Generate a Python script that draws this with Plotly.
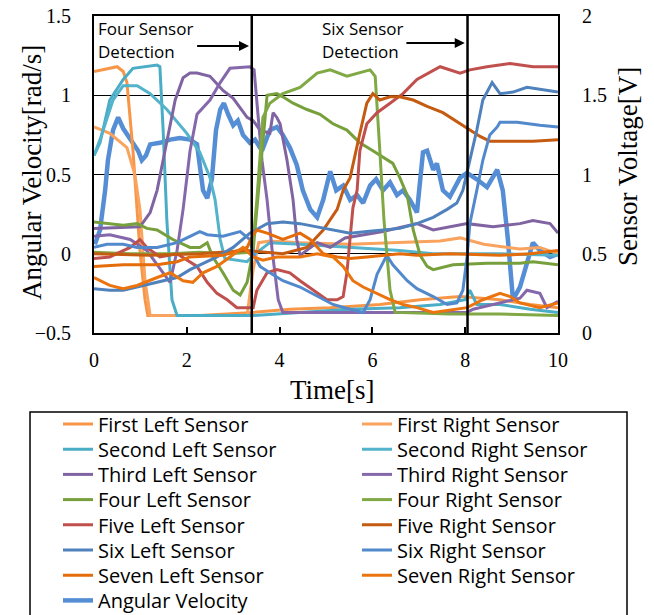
import plotly.graph_objects as go

# ---------------- data (time [s], value) ----------------
# Sensor voltages [V] (right axis)
first_left_t = [0, 0.50, 0.63, 0.71, 0.84, 0.99, 1.10, 1.16, 2.28, 3.43, 4.22, 5.09, 6.16, 7.03, 7.89, 8.75, 9.40, 10]
first_left_v = [1.65, 1.68, 1.65, 1.58, 1.15, 0.52, 0.21, 0.11, 0.11, 0.13, 0.15, 0.16, 0.18, 0.21, 0.23, 0.21, 0.18, 0.16]

first_right_t = [0, 0.34, 0.71, 0.88, 0.99, 1.10, 1.21, 3.30, 3.43, 3.55, 3.79, 4.44, 5.52, 6.59, 7.46, 7.89, 8.40, 9.18, 9.61, 10]
first_right_v = [1.30, 1.26, 1.17, 1.00, 0.78, 0.33, 0.11, 0.11, 0.40, 0.57, 0.58, 0.57, 0.56, 0.57, 0.58, 0.60, 0.56, 0.53, 0.54, 0.50]

second_left_t = [0, 0.13, 0.34, 0.63, 0.84, 1.36, 1.42, 1.49, 1.57, 1.68, 1.79, 3.43, 4.44, 5.52, 6.59, 7.46, 8.00, 8.10, 8.25, 8.75, 9.40, 10]
second_left_v = [1.12, 1.20, 1.47, 1.60, 1.67, 1.69, 1.68, 1.28, 0.71, 0.21, 0.11, 0.11, 0.13, 0.15, 0.16, 0.18, 0.21, 0.27, 0.18, 0.18, 0.15, 0.13]

second_right_t = [0, 0.13, 0.41, 0.63, 0.93, 1.21, 1.57, 2.00, 2.28, 2.50, 2.61, 2.72, 2.82, 3.30, 3.43, 3.79, 4.44, 5.52, 6.59, 7.31, 8.75, 10]
second_right_v = [1.12, 1.22, 1.47, 1.56, 1.56, 1.51, 1.41, 1.26, 1.14, 0.98, 0.84, 0.59, 0.47, 0.45, 0.49, 0.57, 0.56, 0.54, 0.52, 0.50, 0.50, 0.49]

third_left_t = [0, 0.99, 1.21, 1.36, 1.53, 1.75, 1.92, 2.07, 2.22, 2.50, 2.78, 3.00, 3.30, 3.43, 3.58, 3.79, 3.86, 3.94, 4.01, 4.16, 4.29, 4.37, 4.44, 4.81, 5.09, 5.41, 6.23, 6.96, 7.31, 8.04, 8.60, 9.18, 9.46, 9.83, 10]
third_left_v = [0.66, 0.67, 0.76, 0.90, 1.15, 1.47, 1.61, 1.64, 1.64, 1.62, 1.53, 1.48, 1.36, 1.34, 1.28, 1.26, 1.39, 1.36, 1.32, 1.09, 0.84, 0.59, 0.49, 0.57, 0.54, 0.60, 0.64, 0.69, 0.65, 0.69, 0.67, 0.69, 0.71, 0.69, 0.63]

third_right_t = [0, 0.34, 0.78, 1.14, 1.49, 1.64, 1.79, 1.92, 2.07, 2.22, 2.50, 2.72, 2.93, 3.36, 3.45, 3.53, 3.62, 3.73, 3.84, 3.97, 4.07, 5.09, 6.59, 8.04, 8.17, 8.75, 9.18, 9.33, 9.61, 9.76, 10]
third_right_v = [0.61, 0.62, 0.59, 0.52, 0.38, 0.32, 0.52, 0.78, 1.15, 1.38, 1.47, 1.58, 1.67, 1.68, 1.66, 1.41, 1.09, 0.84, 0.52, 0.21, 0.13, 0.13, 0.13, 0.13, 0.15, 0.19, 0.22, 0.27, 0.25, 0.16, 0.20]

four_left_t = [0, 0.63, 0.93, 1.14, 1.36, 1.70, 2.07, 2.28, 2.44, 2.56, 2.78, 3.00, 3.15, 3.30, 3.43, 3.53, 3.64, 3.73, 3.94, 4.07, 4.29, 4.59, 4.87, 5.15, 5.45, 5.73, 6.01, 6.23, 6.44, 6.59, 6.75, 6.88, 7.03, 7.18, 7.31, 7.74, 8.47, 9.18, 9.46, 10]
four_left_v = [0.70, 0.68, 0.69, 0.66, 0.65, 0.59, 0.54, 0.54, 0.57, 0.48, 0.38, 0.27, 0.24, 0.32, 0.52, 0.84, 1.22, 1.50, 1.51, 1.49, 1.45, 1.41, 1.38, 1.32, 1.28, 1.20, 1.15, 1.11, 1.07, 0.98, 0.87, 0.65, 0.49, 0.42, 0.40, 0.43, 0.44, 0.44, 0.45, 0.43]

four_right_t = [0, 0.78, 1.64, 2.28, 2.93, 3.41, 3.51, 3.64, 3.79, 4.07, 4.44, 4.81, 5.09, 5.45, 5.95, 6.06, 6.16, 6.25, 6.38, 6.49, 7.67, 8.75, 10]
four_right_v = [0.51, 0.50, 0.50, 0.51, 0.50, 0.51, 0.84, 1.36, 1.45, 1.51, 1.55, 1.64, 1.66, 1.62, 1.66, 1.62, 1.15, 0.71, 0.27, 0.13, 0.12, 0.12, 0.11]

five_left_t = [0, 0.34, 0.78, 0.99, 1.14, 1.42, 1.79, 2.22, 2.44, 2.65, 2.87, 3.08, 3.30, 3.43, 3.51, 3.73, 3.94, 4.22, 4.44, 4.72, 5.02, 5.24, 5.37, 5.45, 5.52, 5.58, 5.67, 5.73, 5.88, 6.10, 6.38, 6.66, 6.96, 7.46, 7.89, 8.10, 8.47, 8.97, 9.46, 10]
five_left_v = [0.47, 0.48, 0.54, 0.59, 0.54, 0.48, 0.50, 0.42, 0.32, 0.25, 0.21, 0.16, 0.16, 0.16, 0.27, 0.38, 0.40, 0.38, 0.33, 0.27, 0.21, 0.21, 0.23, 0.38, 0.59, 0.79, 0.90, 1.15, 1.32, 1.39, 1.45, 1.51, 1.60, 1.68, 1.64, 1.66, 1.68, 1.70, 1.68, 1.68]

five_right_t = [0, 1.21, 2.28, 3.30, 4.07, 4.59, 4.94, 5.24, 5.37, 5.52, 5.73, 5.88, 6.01, 6.16, 6.38, 6.59, 6.88, 7.18, 7.52, 7.89, 8.10, 8.32, 8.53, 8.97, 9.46, 10]
five_right_v = [0.50, 0.49, 0.50, 0.52, 0.50, 0.54, 0.65, 0.78, 0.90, 0.98, 1.26, 1.45, 1.51, 1.47, 1.49, 1.49, 1.47, 1.43, 1.39, 1.32, 1.28, 1.24, 1.21, 1.21, 1.21, 1.22]

six_left_t = [0, 0.34, 0.63, 0.93, 1.36, 1.79, 2.07, 2.35, 2.65, 3.00, 3.36, 3.73, 4.07, 4.44, 4.81, 5.15, 5.52, 5.88, 6.23, 6.59, 6.96, 7.31, 7.61, 7.82, 7.95, 8.10, 8.25, 8.38, 8.53, 8.58, 8.75, 9.03, 9.33, 9.76, 10]
six_left_v = [0.28, 0.27, 0.27, 0.29, 0.32, 0.35, 0.40, 0.44, 0.48, 0.54, 0.63, 0.69, 0.70, 0.69, 0.67, 0.65, 0.63, 0.64, 0.65, 0.66, 0.69, 0.73, 0.78, 0.82, 0.90, 1.09, 1.28, 1.47, 1.56, 1.58, 1.51, 1.52, 1.55, 1.53, 1.52]

six_right_t = [0, 0.28, 0.63, 0.93, 1.36, 1.79, 2.07, 2.28, 2.44, 2.78, 3.15, 3.36, 3.43, 3.58, 3.79, 4.07, 4.44, 4.81, 5.15, 5.52, 5.80, 5.95, 6.10, 6.31, 6.44, 6.75, 6.96, 7.31, 7.61, 7.82, 7.95, 8.04, 8.10, 8.25, 8.38, 8.53, 8.69, 8.75, 9.12, 9.61, 10]
six_right_v = [0.54, 0.56, 0.56, 0.54, 0.54, 0.57, 0.61, 0.64, 0.62, 0.61, 0.64, 0.59, 0.50, 0.42, 0.38, 0.33, 0.29, 0.23, 0.18, 0.15, 0.13, 0.21, 0.37, 0.49, 0.43, 0.33, 0.28, 0.23, 0.18, 0.19, 0.27, 0.48, 0.69, 0.90, 1.09, 1.25, 1.30, 1.33, 1.33, 1.31, 1.30]

seven_left_t = [0, 0.63, 1.36, 1.79, 2.07, 2.78, 3.30, 3.43, 3.51, 3.73, 4.07, 4.44, 4.66, 4.94, 5.24, 5.52, 5.88, 6.23, 6.59, 6.96, 7.67, 8.75, 9.40, 10]
seven_left_v = [0.42, 0.43, 0.43, 0.45, 0.48, 0.49, 0.54, 0.62, 0.65, 0.63, 0.59, 0.63, 0.59, 0.50, 0.48, 0.47, 0.48, 0.49, 0.50, 0.49, 0.50, 0.49, 0.50, 0.52]

seven_right_t = [0, 0.34, 0.63, 0.93, 1.36, 1.64, 1.92, 2.13, 2.35, 2.65, 2.93, 3.21, 3.43, 3.64, 3.94, 4.44, 4.81, 5.15, 5.37, 5.58, 5.80, 6.10, 6.38, 6.66, 6.96, 7.31, 8.04, 8.38, 8.75, 8.97, 9.18, 9.61, 10]
seven_right_v = [0.35, 0.30, 0.28, 0.30, 0.35, 0.38, 0.33, 0.32, 0.38, 0.42, 0.48, 0.54, 0.48, 0.46, 0.48, 0.48, 0.50, 0.48, 0.42, 0.33, 0.29, 0.25, 0.21, 0.18, 0.16, 0.13, 0.16, 0.21, 0.25, 0.23, 0.19, 0.16, 0.19]

# Angular velocity [rad/s] (left axis)
ang_t = [0.02, 0.13, 0.24, 0.30, 0.41, 0.52, 0.63, 0.78, 0.95, 1.03, 1.12, 1.21, 1.42, 1.64, 1.85, 2.07, 2.22, 2.35, 2.44, 2.54, 2.63, 2.72, 2.80, 2.89, 3.00, 3.10, 3.21, 3.36, 3.47, 3.62, 3.79, 3.94, 4.07, 4.22, 4.37, 4.50, 4.66, 4.81, 4.94, 5.09, 5.22, 5.37, 5.52, 5.67, 5.80, 5.95, 6.08, 6.23, 6.38, 6.53, 6.66, 6.81, 6.96, 7.09, 7.18, 7.31, 7.39, 7.52, 7.67, 7.89, 8.04, 8.25, 8.47, 8.69, 8.81, 8.92, 9.03, 9.18, 9.33, 9.46, 9.61, 9.83, 10]
ang_v = [0.06, 0.15, 0.40, 0.59, 0.78, 0.86, 0.79, 0.72, 0.65, 0.59, 0.62, 0.69, 0.70, 0.72, 0.73, 0.72, 0.69, 0.40, 0.35, 0.47, 0.78, 0.91, 0.95, 0.88, 0.81, 0.84, 0.75, 0.70, 0.72, 0.65, 0.78, 0.80, 0.75, 0.67, 0.56, 0.40, 0.28, 0.23, 0.34, 0.52, 0.40, 0.43, 0.34, 0.37, 0.32, 0.43, 0.47, 0.40, 0.45, 0.37, 0.40, 0.34, 0.26, 0.64, 0.65, 0.53, 0.57, 0.40, 0.36, 0.48, 0.51, 0.47, 0.42, 0.53, 0.40, 0.09, -0.29, -0.21, -0.05, 0.07, 0.02, -0.02, 0.0]

detect_times = [3.4, 8.05]
x_ticks = [0, 2, 4, 6, 8, 10]

sensor_names = ["First Left Sensor", "First Right Sensor", "Second Left Sensor", "Second Right Sensor",
                "Third Left Sensor", "Third Right Sensor", "Four Left Sensor", "Four Right Sensor",
                "Five Left Sensor", "Five Right Sensor", "Six Left Sensor", "Six Right Sensor",
                "Seven Left Sensor", "Seven Right Sensor"]
sensor_t = [first_left_t, first_right_t, second_left_t, second_right_t, third_left_t, third_right_t,
            four_left_t, four_right_t, five_left_t, five_right_t, six_left_t, six_right_t,
            seven_left_t, seven_right_t]
sensor_v = [first_left_v, first_right_v, second_left_v, second_right_v, third_left_v, third_right_v,
            four_left_v, four_right_v, five_left_v, five_right_v, six_left_v, six_right_v,
            seven_left_v, seven_right_v]
sensor_colors = ["#F79646", "#F9A35E", "#4BACC6", "#52B3CB", "#8064A2", "#8568AB",
                 "#77A03C", "#80A844", "#C0504D", "#C55A11", "#4F81BD", "#5289CC",
                 "#E46C0A", "#EB740F"]

sans = "Open Sans, Noto Sans, sans-serif"
serif = "Liberation Serif, Times New Roman, serif"

# one legend per entry so the two-column grid can be placed exactly
legend_keys = ["legend"] + ["legend%d" % j for j in range(2, 16)]
legend_layout = {}

def legend_pos(col, row):
    x = -0.0776 if col == 0 else 0.5668
    top_px = 425 + 25.2 * row - 20.5
    y = (333 - top_px) / 317
    return dict(x=x, xanchor="left", y=y, yanchor="top", orientation="v",
                font=dict(family=sans, size=20, color="black"),
                bgcolor="rgba(0,0,0,0)", borderwidth=0)

fig = go.Figure()
for i, (name, t, v, c) in enumerate(zip(sensor_names, sensor_t, sensor_v, sensor_colors)):
    key = legend_keys[i]
    legend_layout[key] = legend_pos(i % 2, i // 2)
    fig.add_trace(go.Scatter(x=t, y=v, mode="lines", name=name, yaxis="y2", legend=key,
                             line=dict(color=c, width=3)))
key = legend_keys[14]
legend_layout[key] = legend_pos(0, 7)
fig.add_trace(go.Scatter(x=ang_t, y=ang_v, mode="lines", name="Angular Velocity", yaxis="y",
                         legend=key, line=dict(color="#558ED5", width=4.5)))

for xt in detect_times:
    fig.add_shape(type="line", xref="x", yref="paper", x0=xt, x1=xt, y0=0, y1=1,
                  line=dict(color="black", width=2.5))

# legend frame
fig.add_shape(type="rect", xref="paper", yref="paper", x0=-0.1379, x1=1.1487, y0=-0.2492, y1=-0.93,
              line=dict(color="black", width=1.5), fillcolor="rgba(0,0,0,0)")

ann_font = dict(family=sans, size=17, color="black")
for txt, xx, yy in [("Four Sensor", 0.05, 1.424), ("Detection", 0.05, 1.279),
                    ("Six Sensor", 4.86, 1.424), ("Detection", 4.86, 1.279)]:
    fig.add_annotation(x=xx, y=yy, xref="x", yref="y", text=txt, showarrow=False,
                       xanchor="left", yanchor="middle", font=ann_font)
fig.add_annotation(x=3.34, y=1.311, ax=2.19, ay=1.311, xref="x", yref="y", axref="x", ayref="y",
                   text="", showarrow=True, arrowhead=2, arrowsize=1, arrowwidth=2, arrowcolor="black")
fig.add_annotation(x=7.99, y=1.33, ax=6.70, ay=1.33, xref="x", yref="y", axref="x", ayref="y",
                   text="", showarrow=True, arrowhead=2, arrowsize=1, arrowwidth=2, arrowcolor="black")

# axis titles
title_font = dict(family=serif, size=27, color="black")
fig.add_annotation(x=-0.1336, y=0.505, xref="paper", yref="paper", text="Angular Velocity[rad/s]",
                   textangle=-90, showarrow=False, xanchor="center", yanchor="middle", font=title_font)
fig.add_annotation(x=1.1509, y=0.524, xref="paper", yref="paper", text="Sensor Voltage[V]",
                   textangle=-90, showarrow=False, xanchor="center", yanchor="middle", font=title_font)
fig.add_annotation(x=0.515, y=-0.18, xref="paper", yref="paper", text="Time[s]",
                   showarrow=False, xanchor="center", yanchor="middle", font=title_font)

fig.update_layout(
    width=654, height=615,
    margin=dict(l=94, r=96, t=16, b=282, autoexpand=False),
    paper_bgcolor="white", plot_bgcolor="white",
    showlegend=True,
    xaxis=dict(range=[0, 10], tickvals=x_ticks, ticks="inside", ticklen=6, tickcolor="black",
               tickwidth=1.5, showline=True, linecolor="black", linewidth=2, mirror=True,
               showgrid=False, zeroline=False, ticklabelstandoff=8,
               tickfont=dict(family=serif, size=20, color="black")),
    yaxis=dict(range=[-0.5, 1.5], dtick=0.5, showline=True, linecolor="black", linewidth=2, mirror=True,
               showgrid=True, gridcolor="black", gridwidth=1, zeroline=False, ticks="",
               ticklabelstandoff=17,
               tickfont=dict(family=serif, size=20, color="black")),
    yaxis2=dict(range=[0, 2], dtick=0.5, overlaying="y", side="right", showline=True, linecolor="black",
                linewidth=2, showgrid=False, zeroline=False, ticks="", ticklabelstandoff=18,
                tickfont=dict(family=serif, size=20, color="black")),
    **legend_layout,
)

fig.write_html("out.html", config={"displayModeBar": False},
               post_script="document.body.style.margin='0';")
